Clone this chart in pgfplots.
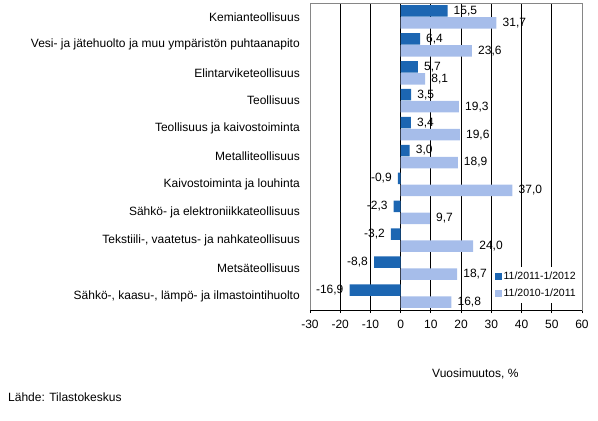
\documentclass[border=0pt]{standalone}
\usepackage{fontspec}
\setmainfont{Liberation Sans}
\usepackage{pgfplots}
\pgfplotsset{compat=1.18}
\definecolor{tummasin}{RGB}{28,102,178}
\definecolor{vaaleasin}{RGB}{166,189,234}
\definecolor{kehys}{RGB}{134,134,134}
\pgfplotsset{ruutu/.style={legend image code/.code={\fill[##1,draw=none] (0pt,-3pt) rectangle (6.5pt,3.5pt);}}}

\begin{document}
\begin{tikzpicture}[x=1pt,y=1pt]
\useasboundingbox (0,0) rectangle (598,-421);
\begin{axis}[
    at={(310pt,-310pt)}, anchor=south west,
    scale only axis, width=272pt, height=307pt,
    xbar, bar width=11.5pt,
    xmin=-30, xmax=60, ymin=0.5, ymax=11.5,
    enlargelimits=false,
    xtick={-30,-20,...,60},
    ytick={1,...,11},
    yticklabels={{Sähkö-, kaasu-, lämpö- ja ilmastointihuolto},
        Metsäteollisuus,
        {Tekstiili-, vaatetus- ja nahkateollisuus},
        Sähkö- ja elektroniikkateollisuus,
        Kaivostoiminta ja louhinta,
        Metalliteollisuus,
        Teollisuus ja kaivostoiminta,
        Teollisuus,
        Elintarviketeollisuus,
        Vesi- ja jätehuolto ja muu ympäristön puhtaanapito,
        Kemianteollisuus},
    /pgf/number format/assume math mode=true,
    tick label style={font=\fontsize{12}{14}\selectfont},
    yticklabel style={inner sep=0pt, xshift=-7pt},
    xticklabel style={yshift=-4pt},
    ytick style={draw=none},
    xtick pos=left,
    tick align=outside,
    major tick length=3pt,
    xtick style={black, line width=0.9pt},
    axis line style={kehys, line width=0.9pt},
    xmajorgrids,
    grid style={black, line width=0.9pt},
    point meta=x,
    nodes near coords={\pgfmathprintnumber[fixed,fixed zerofill,precision=1,use comma,assume math mode=true]{\pgfplotspointmeta}},
    nodes near coords style={font=\fontsize{12}{14}\selectfont, inner xsep=6pt, black},
    legend style={at={(0.669,0.140)}, anchor=north west, draw=none, fill=white,
        font=\fontsize{10.5}{12}\selectfont, row sep=4pt, inner xsep=3pt, inner ysep=3pt},
    legend cell align=left,
]
\addplot[fill=tummasin, draw=none, bar shift=6pt, ruutu] coordinates {
    (-16.9,1) (-8.8,2) (-3.2,3) (-2.3,4) (-0.9,5) (3.0,6)
    (3.4,7) (3.5,8) (5.7,9) (6.4,10) (15.5,11)
};
\addlegendentry{11/2011-1/2012}
\addplot[fill=vaaleasin, draw=none, bar shift=-6pt, ruutu] coordinates {
    (16.8,1) (18.7,2) (24.0,3) (9.7,4) (37.0,5) (18.9,6)
    (19.6,7) (19.3,8) (8.1,9) (23.6,10) (31.7,11)
};
\addlegendentry{11/2010-1/2011}
\draw[black, line width=0.9pt] (rel axis cs:0,0) -- (rel axis cs:1,0);
\end{axis}
\node[anchor=west, inner sep=0pt, font=\fontsize{12}{14}\selectfont] at (432,-374) {Vuosimuutos, \%};
\node[anchor=west, inner sep=0pt, font=\fontsize{12}{14}\selectfont] at (8,-397) {Lähde: Tilastokeskus};
\end{tikzpicture}
\end{document}
